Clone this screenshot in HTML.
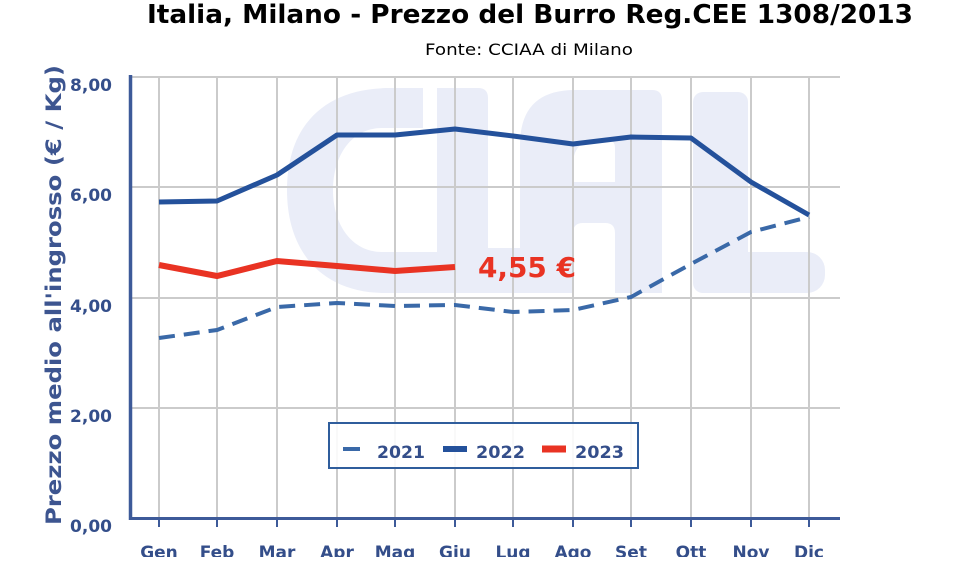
<!DOCTYPE html>
<html><head><meta charset="utf-8"><style>
html,body{margin:0;padding:0;background:#fff;}
svg{display:block;}
text{font-family:"DejaVu Sans","Liberation Sans",sans-serif;}
</style></head><body>
<svg width="966" height="574" viewBox="0 0 966 574" xmlns="http://www.w3.org/2000/svg">
<rect width="966" height="574" fill="#fff"/>
<!-- watermark -->
<g fill="#eaedf8">
  <path d="M390,88 H478 Q488,88 488,98 V293 H385 C325,293 287,255 287,190 C287,125 325,88 390,88 Z"/>
  <rect x="486" y="248" width="40" height="45"/>
  <path d="M520,293 V145 Q520,90 575,90 H652 Q662,90 662,100 V293 Z"/>
  <rect x="693" y="92" width="55" height="201" rx="10"/>
  <rect x="693" y="252" width="132" height="41" rx="18"/>
</g>
<g fill="#fff">
  <path d="M423,80 H437 V140 H423 Z"/>
  <path d="M437,128 H382 C352,128 333,155 333,190 C333,225 352,252 382,252 H437 Z"/>
  <path d="M573,182 V165 Q573,140 598,140 H607 Q615,140 615,148 V182 Z"/>
  <path d="M573,293 V233 Q573,223 583,223 H605 Q615,223 615,233 V293 Z"/>
</g>
<!-- grid -->
<g stroke="#cbcbcb" stroke-width="2">
  <line x1="131" y1="77" x2="840" y2="77"/>
  <line x1="131" y1="187" x2="840" y2="187"/>
  <line x1="131" y1="298" x2="840" y2="298"/>
  <line x1="131" y1="408" x2="840" y2="408"/>
  <line x1="159" y1="77" x2="159" y2="518"/>
  <line x1="217" y1="77" x2="217" y2="518"/>
  <line x1="277" y1="77" x2="277" y2="518"/>
  <line x1="337" y1="77" x2="337" y2="518"/>
  <line x1="395" y1="77" x2="395" y2="518"/>
  <line x1="455" y1="77" x2="455" y2="518"/>
  <line x1="513" y1="77" x2="513" y2="518"/>
  <line x1="573" y1="77" x2="573" y2="518"/>
  <line x1="631" y1="77" x2="631" y2="518"/>
  <line x1="691" y1="77" x2="691" y2="518"/>
  <line x1="751" y1="77" x2="751" y2="518"/>
  <line x1="809" y1="77" x2="809" y2="518"/>
</g>
<!-- axes -->
<g stroke="#3d5a99">
  <line x1="130.5" y1="75" x2="130.5" y2="520" stroke-width="3.5"/>
  <line x1="129" y1="518.5" x2="840" y2="518.5" stroke-width="3"/>
  <g stroke-width="2">
    <line x1="159" y1="520" x2="159" y2="527"/>
    <line x1="217" y1="520" x2="217" y2="527"/>
    <line x1="277" y1="520" x2="277" y2="527"/>
    <line x1="337" y1="520" x2="337" y2="527"/>
    <line x1="395" y1="520" x2="395" y2="527"/>
    <line x1="455" y1="520" x2="455" y2="527"/>
    <line x1="513" y1="520" x2="513" y2="527"/>
    <line x1="573" y1="520" x2="573" y2="527"/>
    <line x1="631" y1="520" x2="631" y2="527"/>
    <line x1="691" y1="520" x2="691" y2="527"/>
    <line x1="751" y1="520" x2="751" y2="527"/>
    <line x1="809" y1="520" x2="809" y2="527"/>
  </g>
</g>
<!-- series -->
<polyline fill="none" stroke="#3a69a8" stroke-width="4" stroke-dasharray="16 9"
  points="159,338 217,330 277,307 337,303 395,306 455,305 513,312 573,310 631,297 691,264 751,232 809,217"/>
<polyline fill="none" stroke="#24519b" stroke-width="5" stroke-linejoin="round"
  points="159,202 217,201 277,175 337,135 395,135 455,129 513,136 573,144 631,137 691,138 751,182 809,215"/>
<polyline fill="none" stroke="#e93323" stroke-width="6"
  points="159,265 217,276 277,261 337,266 395,271 455,267"/>
<text x="478" y="277" font-size="28" font-weight="bold" fill="#e93323" textLength="98" lengthAdjust="spacingAndGlyphs">4,55 €</text>
<!-- legend -->
<rect x="329" y="423" width="309" height="45" fill="#fff" fill-opacity="0.88" stroke="#2f5d9c" stroke-width="2"/>
<line x1="343" y1="449" x2="360" y2="449" stroke="#3a69a8" stroke-width="4"/>
<text x="377" y="458" font-size="17" font-weight="bold" fill="#344e8a" textLength="48" lengthAdjust="spacingAndGlyphs">2021</text>
<line x1="443" y1="449" x2="467" y2="449" stroke="#24519b" stroke-width="6"/>
<text x="476" y="458" font-size="17" font-weight="bold" fill="#344e8a" textLength="49" lengthAdjust="spacingAndGlyphs">2022</text>
<line x1="542" y1="449" x2="566" y2="449" stroke="#e93323" stroke-width="7"/>
<text x="575" y="458" font-size="17" font-weight="bold" fill="#344e8a" textLength="49" lengthAdjust="spacingAndGlyphs">2023</text>
<!-- title -->
<text x="147" y="23" font-size="26" font-weight="bold" fill="#000" textLength="766" lengthAdjust="spacingAndGlyphs">Italia, Milano - Prezzo del Burro Reg.CEE 1308/2013</text>
<text x="425" y="55" font-size="16" fill="#000" textLength="208" lengthAdjust="spacingAndGlyphs">Fonte: CCIAA di Milano</text>
<!-- y labels -->
<g font-size="17" font-weight="bold" fill="#344e8a" text-anchor="end">
  <text x="112" y="91">8,00</text>
  <text x="112" y="201">6,00</text>
  <text x="112" y="312">4,00</text>
  <text x="112" y="422">2,00</text>
  <text x="112" y="532">0,00</text>
</g>
<text transform="translate(61,295) rotate(-90)" text-anchor="middle" font-size="21" font-weight="bold" fill="#3d5590" textLength="460" lengthAdjust="spacingAndGlyphs">Prezzo medio all'ingrosso (€ / Kg)</text>
<!-- x labels -->
<clipPath id="cx"><rect x="0" y="530" width="966" height="27"/></clipPath>
<g clip-path="url(#cx)" font-size="17" font-weight="bold" fill="#344e8a" text-anchor="middle">
  <text x="159" y="558">Gen</text>
  <text x="217" y="558">Feb</text>
  <text x="277" y="558">Mar</text>
  <text x="337" y="558">Apr</text>
  <text x="395" y="558">Mag</text>
  <text x="455" y="558">Giu</text>
  <text x="513" y="558">Lug</text>
  <text x="573" y="558">Ago</text>
  <text x="631" y="558">Set</text>
  <text x="691" y="558">Ott</text>
  <text x="751" y="558">Nov</text>
  <text x="809" y="558">Dic</text>
</g>
</svg>
</body></html>
